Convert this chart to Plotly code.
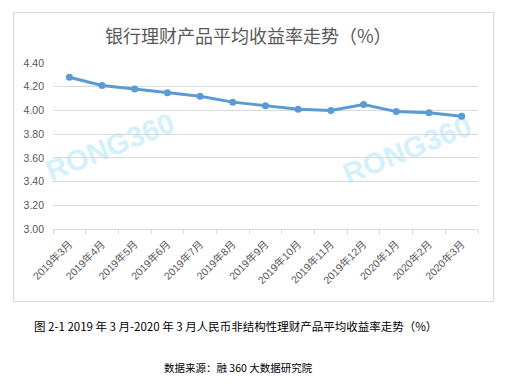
import plotly.graph_objects as go

categories = ["2019年3月", "2019年4月", "2019年5月", "2019年6月", "2019年7月", "2019年8月",
              "2019年9月", "2019年10月", "2019年11月", "2019年12月", "2020年1月", "2020年2月", "2020年3月"]
yields = [4.28, 4.21, 4.18, 4.15, 4.12, 4.07, 4.04, 4.01, 4.00, 4.05, 3.99, 3.98, 3.95]
y_ticks = [3.00, 3.20, 3.40, 3.60, 3.80, 4.00, 4.20, 4.40]

title_text = "银行理财产品平均收益率走势（%）"
caption_text = "图 2-1 2019 年 3 月-2020 年 3 月人民币非结构性理财产品平均收益率走势（%）"
source_text = "数据来源：融 360 大数据研究院"
watermark = "RONG360"

W, H = 507, 388
px = lambda x: x / W
py = lambda y: 1 - y / H

FONT = "Liberation Sans, Noto Sans CJK SC, sans-serif"
CJK = "Noto Sans CJK SC, sans-serif"
GREY = "#595959"
GRID = "#d9d9d9"

fig = go.Figure()
fig.add_trace(go.Scatter(
    x=categories, y=yields, mode="lines+markers",
    line=dict(color="#5B9BD5", width=3),
    marker=dict(color="#5B9BD5", size=7),
    hoverinfo="x+y", showlegend=False,
))

shapes = [
    dict(type="rect", xref="paper", yref="paper",
         x0=px(13.5), x1=px(493.5), y0=py(301.5), y1=py(12.5),
         line=dict(color=GRID, width=1), fillcolor="rgba(0,0,0,0)", layer="below"),
]
for cx, cy in [(109, 144), (406, 147)]:
    shapes.append(dict(
        type="rect", xref="paper", yref="paper",
        x0=px(cx - 70), x1=px(cx + 70), y0=py(cy + 30), y1=py(cy - 30),
        line=dict(width=0), fillcolor="rgba(0,0,0,0)", layer="between",
        label=dict(text=watermark, textangle=-22, textposition="middle center",
                   font=dict(size=29, color="#d3f0fb", family="Liberation Sans, Arial", weight="bold")),
    ))

fig.update_layout(
    width=W, height=H,
    autosize=False,
    margin=dict(l=0, r=0, t=0, b=0, pad=0),
    paper_bgcolor="white", plot_bgcolor="white",
    font=dict(family=FONT, color=GREY, size=10),
    shapes=shapes,
    xaxis=dict(
        domain=[px(53), px(478)],
        type="category",
        range=[-0.5, len(categories) - 0.5],
        automargin=False,
        tickangle=-45,
        tickson="boundaries",
        ticks="outside", ticklen=4, tickcolor=GRID,
        showline=True, linecolor=GRID, linewidth=1,
        showgrid=False,
        ticklabelstandoff=4,
        tickfont=dict(size=10.5, color=GREY, family=FONT),
    ),
    yaxis=dict(
        domain=[py(229), py(63)],
        range=[3.0, 4.4],
        automargin=False,
        tickvals=y_ticks,
        tickformat=".2f",
        showgrid=True, gridcolor=GRID, gridwidth=1,
        zeroline=False, showline=False, ticks="",
        ticklabelstandoff=8,
        tickfont=dict(size=10.5, color=GREY, family=FONT),
    ),
    annotations=[
        dict(text=title_text, xref="paper", yref="paper", x=px(248), y=py(35),
             xanchor="center", yanchor="middle", showarrow=False,
             font=dict(size=18, color=GREY, family=CJK)),
        dict(text=caption_text, xref="paper", yref="paper", x=px(32), y=py(326),
             xanchor="left", yanchor="middle", showarrow=False,
             font=dict(size=11.5, color="#000000", family=CJK)),
        dict(text=source_text, xref="paper", yref="paper", x=px(238.5), y=py(367),
             xanchor="center", yanchor="middle", showarrow=False,
             font=dict(size=10.5, color="#000000", family=CJK)),
    ],
)

fig.write_html("out.html", config={"displayModeBar": False},
               post_script="document.body.style.margin='0';document.body.style.overflow='hidden';")
